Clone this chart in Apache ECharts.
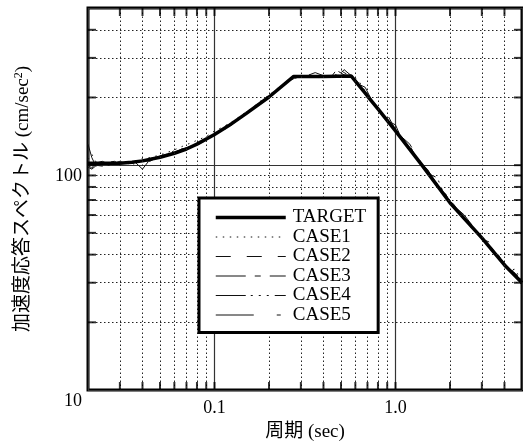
<!DOCTYPE html>
<html>
<head>
<meta charset="utf-8">
<script src="https://cdn.jsdelivr.net/npm/echarts@6/dist/echarts.min.js"></script>
<style>html,body{margin:0;padding:0;background:#fff;}</style>
</head>
<body>
<div id="main" style="width:523px;height:447px;"></div>
<script type="text/javascript">
// 目標スペクトル (period sec, cm/sec2)
var targetT = [0.02, 0.025, 0.03, 0.035, 0.04, 0.05, 0.06, 0.07, 0.08, 0.1, 0.12, 0.15, 0.2, 0.274, 0.4, 0.57, 0.7, 0.8, 1.0, 1.4, 2, 3, 4, 5];
var target  = [102, 102, 102, 103, 104.5, 108.5, 113, 118, 124, 137, 150, 170, 201, 248, 248, 249, 203, 178, 142, 100, 68, 47.5, 36, 30];

// 模擬地震波の応答スペクトル
var caseT = [0.02, 0.021, 0.022, 0.024, 0.026, 0.028, 0.03, 0.033, 0.036, 0.04, 0.044, 0.05, 0.055, 0.06, 0.066, 0.073, 0.08, 0.09,
             0.1, 0.11, 0.125, 0.14, 0.16, 0.18, 0.2, 0.23, 0.26, 0.29, 0.32, 0.36, 0.4, 0.44, 0.48, 0.52, 0.57, 0.62, 0.68, 0.75,
             0.82, 0.9, 1.0, 1.1, 1.2, 1.35, 1.5, 1.7, 1.9, 2.1, 2.4, 2.7, 3.0, 3.4, 3.8, 4.2, 4.6, 5.0];
var case1 = [106, 112, 104, 101, 100, 102, 103, 101, 104, 107, 108, 111, 114, 117, 121, 125, 129, 134,
             142, 147, 156, 166, 179, 193, 205, 224, 241, 251, 250, 246, 251, 249, 254, 250, 251, 240, 214, 193,
             175, 161, 145, 131, 118, 106, 93, 83, 74, 66, 58, 51, 48, 42.5, 38.5, 34, 34.5, 29.5];
var case2 = [98, 96, 99, 101, 103, 101, 102, 103, 102, 103, 107, 109, 112, 114, 117, 121, 126, 131,
             138, 144, 152, 162, 178, 190, 202, 220, 238, 247, 252, 249, 247, 250, 262, 252, 247, 228, 214, 186,
             176, 156, 141, 132, 124, 105, 95, 81, 74, 64, 58, 51.5, 47, 45, 38.5, 35, 31.5, 30];
var case3 = [124, 108, 100, 99, 103, 104, 101, 102, 104, 96, 106, 109, 110, 114, 118, 119, 125, 131,
             136, 144, 155, 164, 176, 190, 203, 222, 239, 246, 249, 258, 250, 246, 270, 258, 248, 230, 222, 190,
             172, 168, 144, 128, 122, 103, 96, 82, 72, 66, 60, 53, 47, 43, 37.5, 35, 33, 30.5];
var case4 = [100, 97, 102, 104, 101, 103, 100, 104, 101, 105, 104, 110, 112, 116, 115, 122, 123, 129,
             138, 142, 151, 165, 176, 192, 200, 221, 243, 250, 246, 250, 236, 251, 247, 266, 250, 233, 208, 191,
             171, 158, 151, 127, 121, 104, 92, 88, 71, 67, 57, 52, 48.5, 41.5, 38, 34.5, 33.5, 29];
var case5 = [103, 101, 103, 102, 100, 102, 104, 101, 103, 104, 105, 107, 112, 112, 118, 120, 124, 130,
             137, 143, 154, 163, 178, 191, 202, 220, 240, 248, 249, 247, 249, 247, 251, 249, 249, 228, 211, 188,
             174, 157, 143, 129, 117, 105, 94, 83, 73, 65.5, 57, 52, 47.5, 42.5, 38, 34.5, 32, 31];

var seriesNames = ['TARGET', 'CASE1', 'CASE2', 'CASE3', 'CASE4', 'CASE5'];

// 軸
var xMin = 0.02, xMax = 5, yMin = 10, yMax = 500;
var xMajor = [0.1, 1];
var xMajorLabels = ['0.1', '1.0'];
var xMinor = [0.03, 0.04, 0.05, 0.06, 0.07, 0.08, 0.09, 0.2, 0.3, 0.4, 0.5, 0.6, 0.7, 0.8, 0.9, 2, 3, 4];
var yMajor = [10, 100];
var yMajorLabels = ['10', '100'];
var yMinor = [20, 30, 40, 50, 60, 70, 80, 90, 200, 300, 400];

var serif = "'Liberation Serif', 'Noto Sans CJK JP', serif";

function pairs(xs, ys) { return xs.map(function (x, i) { return [x, ys[i]]; }); }
function labelOf(v, vals, labels) {
    for (var i = 0; i < vals.length; i++) {
        if (Math.abs(v - vals[i]) < 1e-9 * vals[i]) return labels[i];
    }
    return '';
}

var allX = xMinor.concat(xMajor);
var allY = yMinor.concat([100]);

function tickSeries(data, size, offset) {
    return {
        type: 'scatter', data: data, symbol: 'rect', symbolSize: size, symbolOffset: offset,
        itemStyle: { color: '#000' }, silent: true, clip: false, z: 5
    };
}

var myChart = echarts.init(document.getElementById('main'));
var option = {
    animation: false,
    backgroundColor: '#fff',
    color: ['#000'],
    grid: {
        left: 88, top: 8, right: 1, bottom: 57,
        show: true, borderColor: '#000', borderWidth: 3,
        containLabel: false, outerBoundsMode: 'none'
    },
    legend: {
        data: seriesNames,
        orient: 'vertical',
        left: 199, top: 198,
        itemWidth: 70, itemHeight: 14, itemGap: 0.5,
        padding: [10, 12, 8, 15],
        backgroundColor: '#fff',
        borderColor: '#000', borderWidth: 3, borderRadius: 0,
        itemStyle: { opacity: 0, borderWidth: 0 },
        lineStyle: { width: 'inherit', type: 'inherit', color: 'inherit' },
        textStyle: { fontFamily: serif, fontSize: 19, lineHeight: 19, color: '#000', padding: [0, 0, 0, 2] },
        z: 20
    },
    xAxis: {
        type: 'log', logBase: 10, min: xMin, max: xMax,
        name: '周期 (sec)', nameLocation: 'middle', nameGap: 33,
        nameTextStyle: { fontFamily: serif, fontSize: 19, color: '#000' },
        axisLine: { show: false },
        axisTick: { show: false },
        axisLabel: {
            margin: 9, fontFamily: serif, fontSize: 18, color: '#000',
            showMinLabel: false, showMaxLabel: false,
            formatter: function (v) { return labelOf(v, xMajor, xMajorLabels); }
        },
        splitLine: { show: true, lineStyle: { color: '#333', width: 1.2, type: 'solid' } }
    },
    yAxis: {
        type: 'log', logBase: 10, min: yMin, max: yMax,
        name: '{a|加速度応答スペクトル (cm/sec}{s|2}{a|)}',
        nameLocation: 'middle', nameGap: 55, nameRotate: 90,
        nameTextStyle: {
            rich: {
                a: { fontFamily: serif, fontSize: 19, color: '#000' },
                s: { fontFamily: serif, fontSize: 12, color: '#000', verticalAlign: 'top', padding: [0, 0, 8, 0] }
            }
        },
        axisLine: { show: false },
        axisTick: { show: false },
        axisLabel: {
            margin: 6, fontFamily: serif, fontSize: 18, color: '#000',
            verticalAlign: 'top', padding: [2, 0, 0, 0],
            showMaxLabel: false,
            formatter: function (v) { return labelOf(v, yMajor, yMajorLabels); }
        },
        splitLine: { show: true, lineStyle: { color: '#333', width: 1.2, type: 'solid' } }
    },
    series: [
        {
            // 補助目盛線 (点線)
            type: 'line', data: [], silent: true, z: 1,
            markLine: {
                silent: true, symbol: 'none', animation: false,
                label: { show: false },
                lineStyle: { color: '#222', width: 1, type: [1.5, 2.5] },
                data: xMinor.map(function (v) { return { xAxis: v }; })
                    .concat(yMinor.map(function (v) { return { yAxis: v }; }))
            }
        },
        tickSeries(allX.map(function (x) { return [x, yMin]; }), [2, 8], [0, -4]),
        tickSeries(allX.map(function (x) { return [x, yMax]; }), [2, 8], [0, 4]),
        tickSeries(allY.map(function (y) { return [xMin, y]; }), [8, 2], [4, 0]),
        tickSeries(allY.map(function (y) { return [xMax, y]; }), [8, 2], [-4, 0]),
        {
            name: 'CASE1', type: 'line', symbol: 'none', data: pairs(caseT, case1), z: 3,
            itemStyle: { color: '#000' },
            lineStyle: { color: '#111', width: 1, type: [1.5, 5.5] }
        },
        {
            name: 'CASE2', type: 'line', symbol: 'none', data: pairs(caseT, case2), z: 3,
            itemStyle: { color: '#000' },
            lineStyle: { color: '#111', width: 1, type: [15, 16] }
        },
        {
            name: 'CASE3', type: 'line', symbol: 'none', data: pairs(caseT, case3), z: 3,
            itemStyle: { color: '#000' },
            lineStyle: { color: '#111', width: 1, type: [30, 9, 6, 9] }
        },
        {
            name: 'CASE4', type: 'line', symbol: 'none', data: pairs(caseT, case4), z: 3,
            itemStyle: { color: '#000' },
            lineStyle: { color: '#111', width: 1, type: [30, 5, 2, 6, 2, 6, 2, 6] }
        },
        {
            name: 'CASE5', type: 'line', symbol: 'none', data: pairs(caseT, case5), z: 3,
            itemStyle: { color: '#000' },
            lineStyle: { color: '#111', width: 1, type: [38, 23, 4, 23] }
        },
        {
            name: 'TARGET', type: 'line', symbol: 'none', data: pairs(targetT, target), z: 4,
            itemStyle: { color: '#000' },
            lineStyle: { color: '#000', width: 3.5, type: 'solid' }
        }
    ]
};
myChart.setOption(option);
</script>
</body>
</html>
